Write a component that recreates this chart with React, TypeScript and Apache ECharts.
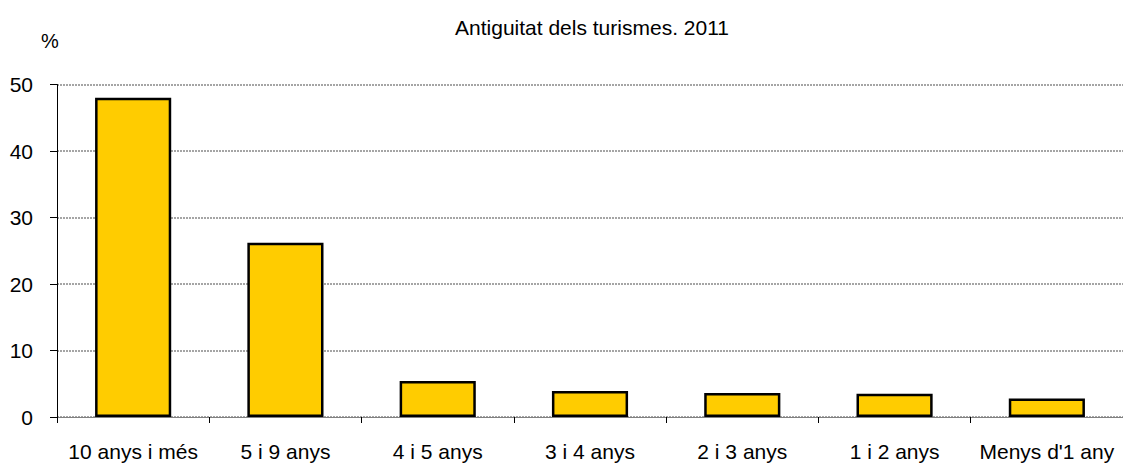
import React, { useEffect, useRef } from "react";
import * as echarts from "echarts";

const categories = ["10 anys i més", "5 i 9 anys", "4 i 5 anys", "3 i 4 anys", "2 i 3 anys", "1 i 2 anys", "Menys d'1 any"];
const values = [48.0, 26.2, 5.4, 3.9, 3.6, 3.5, 2.8];
const titleText = "Antiguitat dels turismes. 2011";
const unitText = "%";

const FONT = "Liberation Sans, Arial, sans-serif";

export default function App() {
  const ref = useRef<HTMLDivElement>(null);
  useEffect(() => {
    const chart = echarts.init(ref.current!, null, { renderer: "svg" });
    chart.setOption({
      animation: false,
      backgroundColor: "#ffffff",
      textStyle: { fontFamily: FONT },
      title: {
        text: titleText,
        left: 587,
        textAlign: "center",
        top: 12,
        textStyle: { fontSize: 21, fontWeight: "normal", color: "#000", fontFamily: FONT },
      },
      graphic: [
        { type: "text", left: 41, top: 31, style: { text: unitText, fontSize: 20, fill: "#000", fontFamily: FONT } },
      ],
      grid: { left: 57, top: 84.5, width: 1071, height: 332.5, containLabel: false },
      xAxis: {
        type: "category",
        data: categories,
        axisLine: { lineStyle: { color: "#808080", width: 1 } },
        axisTick: { show: true, length: 6, inside: false, lineStyle: { color: "#000" } },
        axisLabel: { fontSize: 21, color: "#000", margin: 24, interval: 0, fontFamily: FONT },
      },
      yAxis: {
        type: "value",
        min: 0,
        max: 50,
        interval: 10,
        axisLine: { show: true, lineStyle: { color: "#000", width: 1 } },
        axisTick: { show: true, length: 7, lineStyle: { color: "#000" } },
        axisLabel: { fontSize: 21, color: "#000", margin: 24, fontFamily: FONT },
        splitLine: { show: true, lineStyle: { color: "#888", type: [2, 1], width: 1.5 } },
      },
      series: [
        {
          type: "bar",
          data: values,
          barWidth: "50%",
          itemStyle: { color: "#FFCC00", borderColor: "#000", borderWidth: 2.5 },
        },
      ],
    });
    return () => chart.dispose();
  }, []);
  return <div ref={ref} style={{ position: "fixed", left: 0, top: 0, width: 1123, height: 464 }} />;
}
